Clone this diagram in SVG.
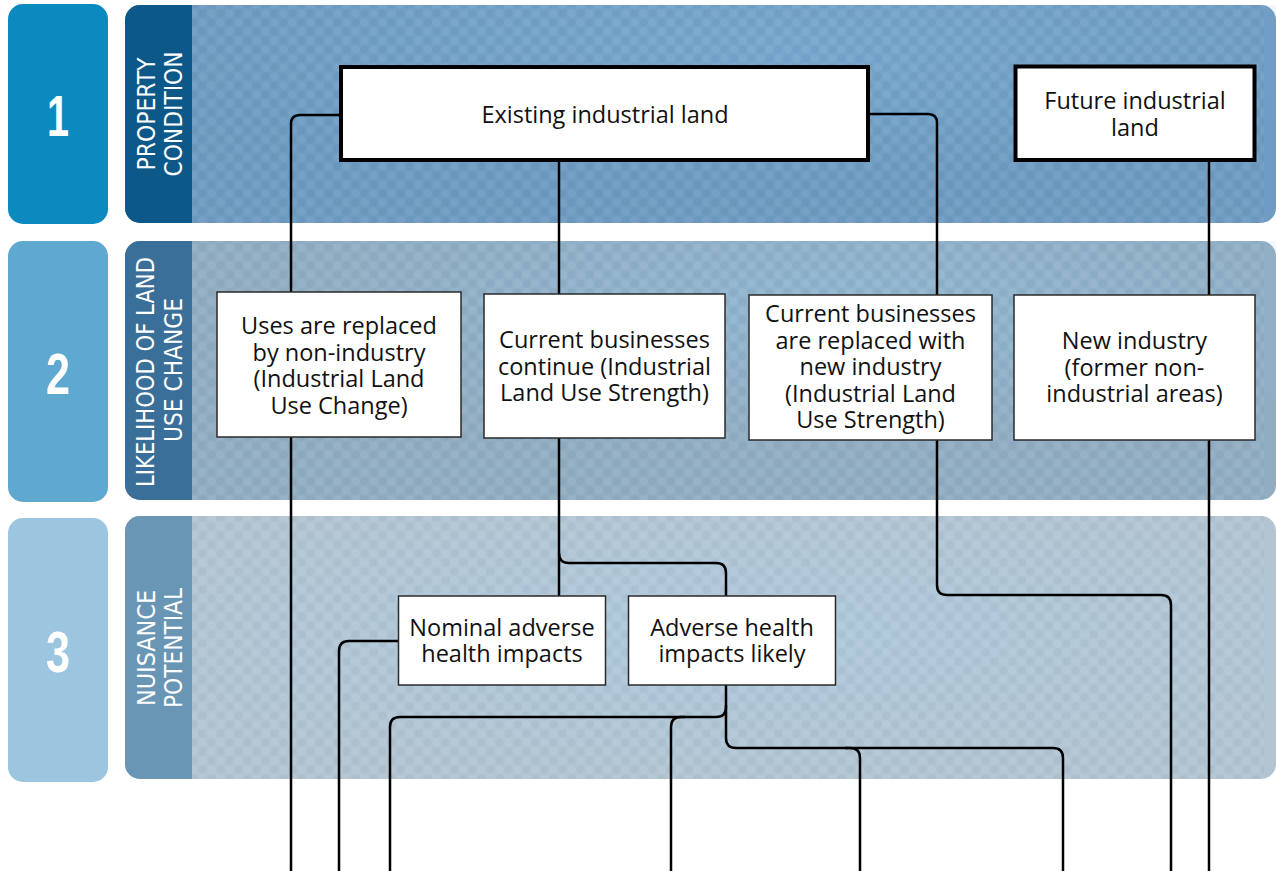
<svg xmlns="http://www.w3.org/2000/svg" width="1276" height="871" viewBox="0 0 1276 871">
<defs>
<pattern id="dots" width="18" height="18" patternUnits="userSpaceOnUse">
<circle cx="4.5" cy="4.5" r="4" fill="#ffffff" fill-opacity="0.05"/>
<circle cx="13.5" cy="13.5" r="4" fill="#ffffff" fill-opacity="0.05"/>
<circle cx="13.5" cy="4.5" r="4" fill="#000000" fill-opacity="0.03"/>
<circle cx="4.5" cy="13.5" r="4" fill="#000000" fill-opacity="0.03"/>
</pattern>
<radialGradient id="glow1" cx="0.55" cy="0.2" r="0.6">
<stop offset="0" stop-color="#7fb0d8" stop-opacity="0.5"/>
<stop offset="1" stop-color="#7fb0d8" stop-opacity="0"/>
</radialGradient>
<radialGradient id="glow2" cx="0.6" cy="0.25" r="0.6">
<stop offset="0" stop-color="#8fc0e0" stop-opacity="0.45"/>
<stop offset="1" stop-color="#8fc0e0" stop-opacity="0"/>
</radialGradient>
<radialGradient id="glow3" cx="0.5" cy="0.45" r="0.6">
<stop offset="0" stop-color="#a8cde6" stop-opacity="0.45"/>
<stop offset="1" stop-color="#a8cde6" stop-opacity="0"/>
</radialGradient>
</defs>
<style>
.tab{stroke:none}
.num{font-family:"Liberation Sans",Arial,sans-serif;font-weight:bold;font-size:58px;fill:#ffffff;text-anchor:middle}
.vlab{font-family:"DejaVu Sans Condensed","Liberation Sans",sans-serif;font-size:25px;fill:#ffffff;text-anchor:middle}
.box{fill:#ffffff;stroke:#2a2a2a;stroke-width:1.5}
.boxb{fill:#ffffff;stroke:#000000;stroke-width:4}
.t{font-family:"Open Sans","Noto Sans",sans-serif;font-size:23.5px;fill:#111111;text-anchor:middle}
.c{fill:none;stroke:#000000;stroke-width:2.5;stroke-linejoin:round}
</style>
<rect width="1276" height="871" fill="#ffffff"/>
<g id="row1">
<rect class="tab" x="8" y="4" width="100" height="220" rx="15" fill="#0a8abf"/>
<text class="num" x="58" y="136" textLength="22" lengthAdjust="spacingAndGlyphs">1</text>
<rect x="125" y="5" width="1151" height="218" rx="15" fill="#6f9cc2"/>
<rect x="192" y="5" width="1084" height="218" fill="url(#glow1)"/>
<rect x="192" y="5" width="1072" height="218" fill="url(#dots)"/>
<path d="M140,5 H192 V223 H140 A15,15 0 0 1 125,208 V20 A15,15 0 0 1 140,5 Z" fill="#0c5889"/>
<text class="vlab" transform="translate(155,114) rotate(-90)" textLength="113" lengthAdjust="spacingAndGlyphs">PROPERTY</text>
<text class="vlab" transform="translate(182,114) rotate(-90)" textLength="125" lengthAdjust="spacingAndGlyphs">CONDITION</text>
</g>
<g id="row2">
<rect class="tab" x="8" y="241" width="100" height="261" rx="15" fill="#5fa8d0"/>
<text class="num" x="58" y="394" textLength="24" lengthAdjust="spacingAndGlyphs">2</text>
<rect x="125" y="241" width="1151" height="259" rx="15" fill="#91adc2"/>
<rect x="192" y="241" width="1084" height="259" fill="url(#glow2)"/>
<rect x="192" y="241" width="1072" height="259" fill="url(#dots)"/>
<path d="M140,241 H192 V500 H140 A15,15 0 0 1 125,485 V256 A15,15 0 0 1 140,241 Z" fill="#3a6f99"/>
<text class="vlab" transform="translate(154,372) rotate(-90)" textLength="230" lengthAdjust="spacingAndGlyphs">LIKELIHOOD OF LAND</text>
<text class="vlab" transform="translate(182,370) rotate(-90)" textLength="144" lengthAdjust="spacingAndGlyphs">USE CHANGE</text>
</g>
<g id="row3">
<rect class="tab" x="8" y="518" width="100" height="264" rx="15" fill="#9cc5df"/>
<text class="num" x="58" y="672" textLength="24" lengthAdjust="spacingAndGlyphs">3</text>
<rect x="125" y="516" width="1151" height="263" rx="15" fill="#b3c5d3"/>
<rect x="192" y="516" width="1084" height="263" fill="url(#glow3)"/>
<rect x="192" y="516" width="1072" height="263" fill="url(#dots)"/>
<path d="M140,516 H192 V779 H140 A15,15 0 0 1 125,764 V531 A15,15 0 0 1 140,516 Z" fill="#6a96b6"/>
<text class="vlab" transform="translate(155,648) rotate(-90)" textLength="116" lengthAdjust="spacingAndGlyphs">NUISANCE</text>
<text class="vlab" transform="translate(182,648) rotate(-90)" textLength="120" lengthAdjust="spacingAndGlyphs">POTENTIAL</text>
</g>
<g id="connectors">
<path class="c" d="M341,115 H300 Q291,115 291,124 V871"/>
<path class="c" d="M559,160 V596"/>
<path class="c" d="M559,553 Q559,563 569,563 H716 Q726,563 726,573 V596"/>
<path class="c" d="M868,114 H928 Q937,114 937,123 V585 Q937,595 947,595 H1161 Q1171,595 1171,605 V871"/>
<path class="c" d="M1209,160 V871"/>
<path class="c" d="M398,641 H349 Q339,641 339,651 V871"/>
<path class="c" d="M726,685 V707 Q726,717 716,717 H400 Q390,717 390,727 V871"/>
<path class="c" d="M685,717 H681 Q671,717 671,727 V871"/>
<path class="c" d="M726,705 V738 Q726,748 736,748 H1053 Q1063,748 1063,758 V871"/>
<path class="c" d="M845,748 H850 Q860,748 860,758 V871"/>
</g>
<g id="n-existing">
<rect class="boxb" x="341" y="67" width="527" height="93"/>
<text class="t" x="605" y="123">Existing industrial land</text>
</g>
<g id="n-future">
<rect class="boxb" x="1015.5" y="66.5" width="239" height="93.5"/>
<text class="t" x="1135" y="109">Future industrial</text>
<text class="t" x="1135" y="135.5">land</text>
</g>
<g id="n-replaced-nonind">
<rect class="box" x="217" y="292" width="244" height="145"/>
<text class="t" x="339" y="334">Uses are replaced</text>
<text class="t" x="339" y="360.5">by non-industry</text>
<text class="t" x="339" y="387">(Industrial Land</text>
<text class="t" x="339" y="413.5">Use Change)</text>
</g>
<g id="n-continue">
<rect class="box" x="484" y="294" width="241" height="144"/>
<text class="t" x="604.5" y="348">Current businesses</text>
<text class="t" x="604.5" y="374.5">continue (Industrial</text>
<text class="t" x="604.5" y="401">Land Use Strength)</text>
</g>
<g id="n-replaced-newind">
<rect class="box" x="749" y="295" width="243" height="145"/>
<text class="t" x="870.5" y="322">Current businesses</text>
<text class="t" x="870.5" y="348.5">are replaced with</text>
<text class="t" x="870.5" y="375">new industry</text>
<text class="t" x="870.5" y="401.5">(Industrial Land</text>
<text class="t" x="870.5" y="428">Use Strength)</text>
</g>
<g id="n-new-industry">
<rect class="box" x="1014" y="295" width="241" height="145"/>
<text class="t" x="1134.5" y="349">New industry</text>
<text class="t" x="1134.5" y="375.5">(former non-</text>
<text class="t" x="1134.5" y="402">industrial areas)</text>
</g>
<g id="n-nominal">
<rect class="box" x="398.5" y="596" width="207" height="89"/>
<text class="t" x="502" y="636">Nominal adverse</text>
<text class="t" x="502" y="662">health impacts</text>
</g>
<g id="n-adverse">
<rect class="box" x="628.5" y="596" width="207" height="89"/>
<text class="t" x="732" y="636">Adverse health</text>
<text class="t" x="732" y="662">impacts likely</text>
</g>
</svg>
